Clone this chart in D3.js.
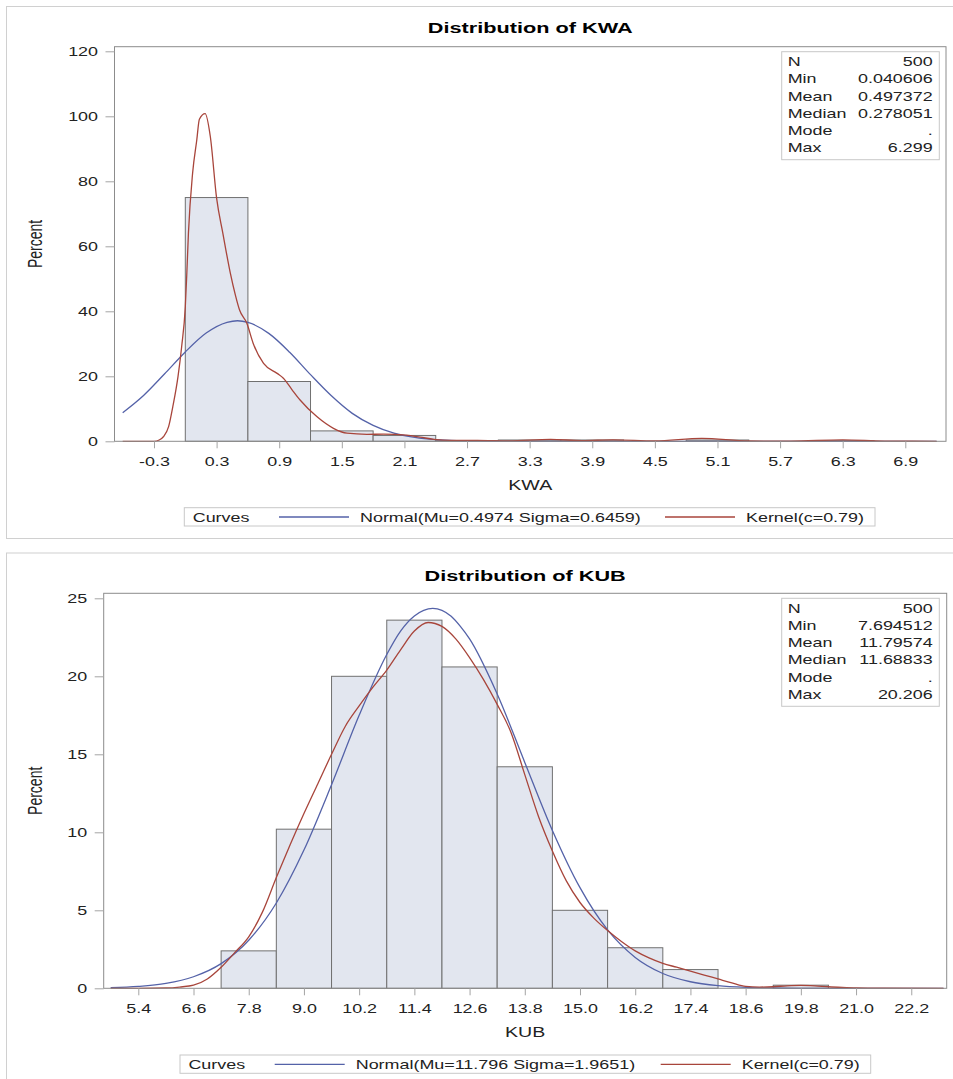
<!DOCTYPE html>
<html>
<head>
<meta charset="utf-8">
<script src="https://cdn.jsdelivr.net/npm/d3@7"></script>
<style>
	body { margin: 0; background: #fff; }
	svg { display: block; font-family: 'Liberation Sans', Arial, sans-serif; }
</style>
</head>
<body>
<svg id="vis" width="953" height="1079"></svg>
<script>
// ---- DATA: KWA ----
let kwaBinStart = [0, 0.6, 1.2, 1.8, 2.4, 3.0, 3.6, 4.8, 6.0];
let kwaPercent = [75.0, 18.4, 3.2, 1.8, 0.2, 0.4, 0.4, 0.4, 0.2];
let kwaBinWidth = 0.6;
let kwaNormalX = [-0.6, -0.4, -0.2, 0, 0.2, 0.4, 0.5, 0.6, 0.8, 1.0, 1.2, 1.4, 1.6, 1.8, 2.0, 2.2, 2.4, 2.6, 2.8, 3.0, 7.2];
let kwaNormalY = [8.8, 14.1, 20.7, 27.5, 33.3, 36.6, 37.1, 36.6, 33.2, 27.4, 20.5, 14.0, 8.6, 4.9, 2.5, 1.2, 0.5, 0.2, 0.1, 0, 0];
let kwaKernelX = [-0.6, -0.3, -0.25, -0.21, -0.16, -0.12, -0.07, -0.035, 0, 0.015, 0.03, 0.07, 0.11, 0.135, 0.19, 0.24, 0.3, 0.36, 0.43, 0.48, 0.52, 0.59, 0.65, 0.75, 0.88, 0.94, 1.02, 1.1, 1.26, 1.42, 1.55, 1.74, 1.9, 2.12, 2.25, 2.38, 2.55, 2.8, 3.1, 3.5, 3.8, 4.1, 4.5, 4.95, 5.4, 5.8, 6.3, 6.7, 7.2];
let kwaKernelY = [0, 0, 0.4, 1.4, 4.5, 10.6, 19.9, 29.1, 41.4, 52, 64, 82.5, 92.7, 99.1, 100.8, 93.7, 74.8, 64, 52, 45, 40.4, 36.3, 30.2, 24, 20.9, 19.4, 16, 12.7, 7.6, 4.0, 2.5, 2.15, 2.2, 1.9, 1.3, 0.6, 0.3, 0.3, 0.15, 0.6, 0.2, 0.45, 0.1, 0.9, 0.1, 0.05, 0.45, 0.05, 0];
let kwaTicksX = [-0.3, 0.3, 0.9, 1.5, 2.1, 2.7, 3.3, 3.9, 4.5, 5.1, 5.7, 6.3, 6.9];
let kwaTicksY = [0, 20, 40, 60, 80, 100, 120];
let kwaStats = ['500', '0.040606', '0.497372', '0.278051', '.', '6.299'];

// ---- DATA: KUB ----
let kubBinStart = [7.2, 8.4, 9.6, 10.8, 12.0, 13.2, 14.4, 15.6, 16.8, 19.2];
let kubPercent = [2.4, 10.2, 20.0, 23.6, 20.6, 14.2, 5.0, 2.6, 1.2, 0.2];
let kubBinWidth = 1.2;
let kubNormalX = [4.8, 5.4, 6.0, 6.6, 7.2, 7.8, 8.4, 9.0, 9.6, 10.2, 10.8, 11.1, 11.4, 11.8, 12.2, 12.4, 12.6, 13.2, 13.8, 14.4, 15.0, 15.6, 16.2, 16.8, 17.4, 18.0, 18.6, 19.2, 19.8, 22.9];
let kubNormalY = [0.04, 0.12, 0.31, 0.74, 1.58, 3.08, 5.47, 8.86, 13.05, 17.5, 21.4, 22.9, 23.87, 24.36, 23.85, 23.2, 22.4, 18.87, 14.48, 10.12, 6.45, 3.74, 1.98, 0.95, 0.42, 0.17, 0.06, 0.02, 0, 0];
let kubKernelX = [4.8, 5.4, 6.0, 6.3, 6.6, 6.9, 7.2, 7.5, 7.8, 8.1, 8.4, 8.7, 9.0, 9.3, 9.6, 9.9, 10.2, 10.5, 10.8, 11.1, 11.4, 11.7, 12.0, 12.3, 12.6, 12.9, 13.2, 13.5, 13.8, 14.1, 14.4, 14.7, 15.0, 15.3, 15.6, 15.9, 16.2, 16.5, 16.8, 17.1, 17.4, 17.7, 18.0, 18.3, 18.6, 18.9, 19.2, 19.5, 19.8, 20.1, 20.4, 20.7, 21.0, 21.6, 22.9];
let kubKernelY = [0, 0, 0.02, 0.08, 0.2, 0.6, 1.35, 2.3, 3.3, 4.9, 7.1, 9.2, 11.2, 13.1, 15.0, 16.8, 18.1, 19.3, 20.4, 21.7, 22.9, 23.45, 23.2, 22.4, 21.2, 19.8, 18.2, 16.4, 13.7, 11.0, 8.8, 6.9, 5.5, 4.5, 3.7, 3.0, 2.4, 1.95, 1.6, 1.35, 1.1, 0.85, 0.6, 0.35, 0.12, 0.08, 0.1, 0.16, 0.19, 0.16, 0.1, 0.06, 0.03, 0.01, 0];
let kubTicksX = [5.4, 6.6, 7.8, 9.0, 10.2, 11.4, 12.6, 13.8, 15.0, 16.2, 17.4, 18.6, 19.8, 21.0, 22.2];
let kubTicksY = [0, 5, 10, 15, 20, 25];
let kubStats = ['500', '7.694512', '11.79574', '11.68833', '.', '20.206'];

let statLabels = ['N', 'Min', 'Mean', 'Median', 'Mode', 'Max'];

// horizontal stretch of all text in the reference
const SX = 1.4;

let svg = d3.select('#vis');

let addText = (g, x, y, str, size, anchor) =>
	g
		.append('text')
		.attr('transform', `translate(${x},${y}) scale(${SX},1)`)
		.attr('font-size', size)
		.attr('text-anchor', anchor || 'start')
		.attr('fill', '#222')
		.text(str);

let drawHist = o => {
	let g = svg.append('g');

	// PANEL
	g.append('rect')
		.attr('x', 6.5)
		.attr('y', o.panelTop)
		.attr('width', 1000)
		.attr('height', o.panelH)
		.attr('fill', 'none')
		.attr('stroke', '#d0d0d0');

	// SCALES
	let x = d3.scaleLinear().domain(o.xDomain).range([o.left, o.right]);
	let y = d3.scaleLinear().domain([0, o.yMax]).range([o.bottom, o.yMaxPx]);

	// BARS
	g.selectAll('rect.bar')
		.data(o.binStart)
		.enter()
		.append('rect')
		.attr('class', 'bar')
		.attr('x', d => x(d))
		.attr('width', d => x(d + o.binWidth) - x(d))
		.attr('y', (d, i) => y(o.percent[i]))
		.attr('height', (d, i) => y(0) - y(o.percent[i]))
		.attr('fill', '#e2e6ef')
		.attr('stroke', '#707070')
		.attr('stroke-width', 1);

	// CURVES
	let line = d3
		.line()
		.x(d => x(d[0]))
		.y(d => y(d[1]))
		.curve(d3.curveMonotoneX);

	g.append('path')
		.datum(o.normalX.map((v, i) => [v, o.normalY[i]]))
		.attr('d', line)
		.attr('fill', 'none')
		.attr('stroke', '#5462a8')
		.attr('stroke-width', 1.3);

	g.append('path')
		.datum(o.kernelX.map((v, i) => [v, o.kernelY[i]]))
		.attr('d', line)
		.attr('fill', 'none')
		.attr('stroke', '#a8453b')
		.attr('stroke-width', 1.3);

	// FRAME
	g.append('rect')
		.attr('x', o.left)
		.attr('y', o.frameTop)
		.attr('width', o.right - o.left)
		.attr('height', o.bottom - o.frameTop)
		.attr('fill', 'none')
		.attr('stroke', '#8c8c8c');

	// AXES
	let xAxis = d3
		.axisBottom(x)
		.tickValues(o.ticksX)
		.tickSize(7)
		.tickFormat(d => d.toFixed(1));
	let yAxis = d3.axisLeft(y).tickValues(o.ticksY).tickSize(9);

	let gx = g
		.append('g')
		.attr('transform', `translate(0,${o.bottom})`)
		.call(xAxis)
		.attr('font-family', null)
		.attr('font-size', 12.8);
	gx.select('.domain').remove();
	gx.selectAll('.tick line').attr('stroke', '#a4a4a4');
	gx.selectAll('.tick text')
		.attr('y', 24.7)
		.attr('dy', null)
		.attr('fill', '#222')
		.attr('transform', `scale(${SX},1)`);

	let gy = g
		.append('g')
		.attr('transform', `translate(${o.left},0)`)
		.call(yAxis)
		.attr('font-family', null)
		.attr('font-size', 12.8);
	gy.select('.domain').remove();
	gy.selectAll('.tick line').attr('stroke', '#a4a4a4');
	gy.selectAll('.tick text')
		.attr('x', -16.5 / SX)
		.attr('fill', '#222')
		.attr('transform', `scale(${SX},1)`);

	// TITLE + LABELS
	let cx = (o.left + o.right) / 2;
	addText(g, cx, o.titleY, o.title, 15.5, 'middle')
		.attr('font-weight', 'bold')
		.attr('fill', '#000');
	addText(g, cx, o.xLabelY, o.xLabel, 14, 'middle');
	g.append('text')
		.attr('transform', `translate(41.5,${(o.frameTop + o.bottom) / 2}) scale(${SX},1) rotate(-90)`)
		.attr('font-size', 14)
		.attr('text-anchor', 'middle')
		.attr('fill', '#222')
		.text('Percent');

	// STATS BOX
	g.append('rect')
		.attr('x', 781.7)
		.attr('y', o.statTop)
		.attr('width', 157.6)
		.attr('height', 108)
		.attr('fill', '#fff')
		.attr('stroke', '#c8c8c8');
	statLabels.forEach((lab, i) => {
		let by = o.statTop + 14.5 + i * 17.2;
		addText(g, 787.7, by, lab, 12.8, 'start');
		addText(g, 932.7, by, o.stats[i], 12.8, 'end');
	});

	// LEGEND
	let lx = o.legX,
		ly = o.legY;
	g.append('rect')
		.attr('x', lx)
		.attr('y', ly)
		.attr('width', 690.7)
		.attr('height', 18.3)
		.attr('fill', '#fff')
		.attr('stroke', '#c8c8c8');
	addText(g, lx + 8.4, ly + 13.9, 'Curves', 12.8);
	g.append('line')
		.attr('x1', lx + 94.7)
		.attr('x2', lx + 164.7)
		.attr('y1', ly + 9.3)
		.attr('y2', ly + 9.3)
		.attr('stroke', '#5462a8')
		.attr('stroke-width', 1.3);
	addText(g, lx + 175.7, ly + 13.9, o.normalLabel, 12.8);
	g.append('line')
		.attr('x1', lx + 480.7)
		.attr('x2', lx + 550.7)
		.attr('y1', ly + 9.3)
		.attr('y2', ly + 9.3)
		.attr('stroke', '#a8453b')
		.attr('stroke-width', 1.3);
	addText(g, lx + 561.7, ly + 13.9, 'Kernel(c=0.79)', 12.8);
};

drawHist({
	panelTop: 6.5,
	panelH: 532,
	left: 114.5,
	right: 946,
	frameTop: 46.7,
	bottom: 441.3,
	xDomain: [-0.6785, 7.29],
	yMax: 120,
	yMaxPx: 51.3,
	binStart: kwaBinStart,
	percent: kwaPercent,
	binWidth: kwaBinWidth,
	normalX: kwaNormalX,
	normalY: kwaNormalY,
	kernelX: kwaKernelX,
	kernelY: kwaKernelY,
	ticksX: kwaTicksX,
	ticksY: kwaTicksY,
	stats: kwaStats,
	statTop: 51.7,
	title: 'Distribution of KWA',
	titleY: 33,
	xLabel: 'KWA',
	xLabelY: 490,
	legX: 184.3,
	legY: 507.7,
	normalLabel: 'Normal(Mu=0.4974 Sigma=0.6459)'
});

drawHist({
	panelTop: 553,
	panelH: 600,
	left: 103.7,
	right: 946.7,
	frameTop: 593.3,
	bottom: 988.3,
	xDomain: [4.648, 22.97],
	yMax: 25,
	yMaxPx: 598.3,
	binStart: kubBinStart,
	percent: kubPercent,
	binWidth: kubBinWidth,
	normalX: kubNormalX,
	normalY: kubNormalY,
	kernelX: kubKernelX,
	kernelY: kubKernelY,
	ticksX: kubTicksX,
	ticksY: kubTicksY,
	stats: kubStats,
	statTop: 598.3,
	title: 'Distribution of KUB',
	titleY: 581,
	xLabel: 'KUB',
	xLabelY: 1037,
	legX: 180,
	legY: 1055,
	normalLabel: 'Normal(Mu=11.796 Sigma=1.9651)'
});
</script>
</body>
</html>
